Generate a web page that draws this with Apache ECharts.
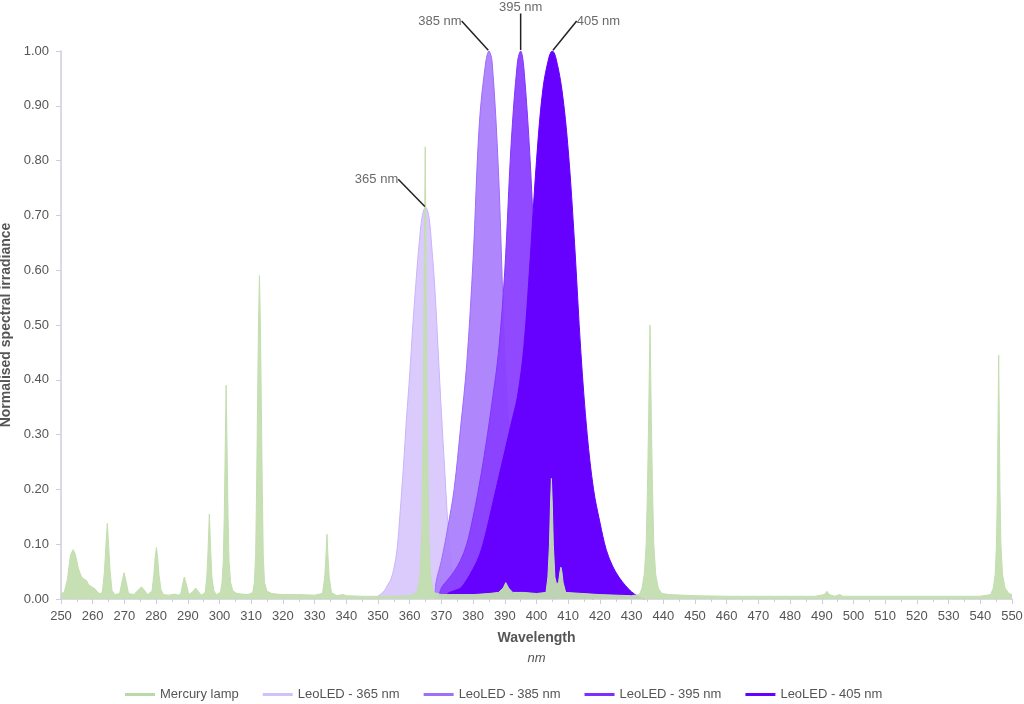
<!DOCTYPE html>
<html>
<head>
<meta charset="utf-8">
<script src="https://cdn.jsdelivr.net/npm/echarts@6/dist/echarts.min.js"></script>
<style>
html,body{margin:0;padding:0;background:#fff;}
#chart{width:1024px;height:704px;}
</style>
</head>
<body>
<div id="chart"></div>
<script>
// ---- data: [wavelength nm, normalised irradiance] ----
var seriesNames = ['Mercury lamp', 'LeoLED - 365 nm', 'LeoLED - 385 nm', 'LeoLED - 395 nm', 'LeoLED - 405 nm'];

var mercury = [
 [250,0.01],[251,0.012],[252,0.035],[253,0.08],[253.8,0.09],[254.5,0.082],[255.5,0.055],[256.5,0.04],[257.3,0.036],
 [258,0.034],[258.8,0.025],[259.8,0.022],[260.8,0.018],[261.8,0.011],[262.6,0.009],
 [263.1,0.015],[263.7,0.05],[264.2,0.1],[264.6,0.138],[265,0.1],[265.5,0.05],[266.1,0.015],[267,0.008],
 [268.5,0.01],[269.2,0.03],[269.9,0.048],[270.6,0.03],[271.3,0.01],
 [273,0.008],[274.3,0.016],[275.4,0.022],[276.3,0.016],[277.3,0.008],
 [278.7,0.014],[279.3,0.045],[279.7,0.075],[280.1,0.094],[280.5,0.075],[280.9,0.045],[281.5,0.018],[282.3,0.008],
 [284,0.007],[286,0.009],[287,0.007],
 [287.8,0.01],[288.4,0.028],[288.9,0.04],[289.5,0.028],[290.3,0.008],[291.5,0.013],[292.5,0.02],[293.4,0.013],[294.3,0.007],
 [295.5,0.012],[296,0.04],[296.4,0.09],[296.8,0.155],[297.2,0.09],[297.6,0.04],[298.2,0.015],[299,0.008],
 [300.3,0.012],[300.8,0.03],[301.2,0.07],[301.5,0.15],[301.8,0.27],[302.1,0.39],[302.4,0.27],[302.7,0.15],[303,0.07],
 [303.5,0.03],[304.2,0.015],[305.5,0.01],[307,0.009],[309,0.008],
 [310.5,0.012],[311,0.03],[311.4,0.08],[311.7,0.2],[312,0.35],[312.3,0.5],[312.6,0.59],[312.9,0.5],[313.2,0.35],
 [313.5,0.2],[313.8,0.08],[314.2,0.03],[315,0.014],[316.5,0.01],
 [318,0.009],[320,0.008],[325,0.008],[330,0.007],
 [332.5,0.01],[333.2,0.04],[333.6,0.08],[333.9,0.118],[334.2,0.08],[334.6,0.04],[335.3,0.012],
 [337,0.006],[339,0.008],[340,0.006],[345,0.005],[350,0.005],[355,0.005],[360,0.006],
 [362.3,0.012],[363.2,0.04],[363.8,0.12],[364.3,0.35],[364.6,0.6],[364.9,0.825],[365.2,0.6],[365.5,0.35],[366,0.12],
 [366.6,0.04],[367.5,0.012],
 [370,0.008],[380,0.008],[385,0.01],[388,0.012],[389.5,0.02],[390.3,0.03],[391.2,0.02],[392.5,0.012],[396,0.012],[400,0.01],
 [403,0.012],[403.6,0.04],[404.1,0.1],[404.4,0.17],[404.7,0.22],[405,0.17],[405.3,0.1],[405.8,0.04],[406.4,0.025],
 [407,0.032],[407.4,0.05],[407.7,0.058],[408,0.05],[408.4,0.03],[409.2,0.012],
 [420,0.008],[430,0.006],
 [432.5,0.008],[433.3,0.02],[434,0.045],[434.6,0.1],[435,0.2],[435.3,0.3],[435.6,0.42],[435.8,0.5],[436,0.42],
 [436.3,0.3],[436.6,0.2],[437,0.1],[437.6,0.045],[438.4,0.02],[439.5,0.01],
 [442,0.008],[450,0.006],[460,0.005],[470,0.005],[480,0.005],[488,0.005],[490.8,0.008],[491.6,0.014],
 [492.4,0.008],[494,0.005],[495.7,0.008],[496.6,0.005],[500,0.005],[510,0.005],[520,0.005],[530,0.005],[540,0.005],
 [543.3,0.008],[544.1,0.02],[544.7,0.045],[545.1,0.1],[545.4,0.2],[545.6,0.32],[545.8,0.445],[546,0.32],[546.2,0.2],
 [546.5,0.1],[547,0.045],[547.8,0.02],[549,0.01],[550,0.008]
];

var led365 = [
 [348,0],[350,0.005],[352,0.015],[353,0.025],[354,0.035],[355,0.055],[356,0.09],[357,0.16],[358,0.24],[359,0.33],
 [360,0.41],[361,0.5],[362,0.58],[363,0.65],[364,0.7],[365,0.715],[366,0.7],[367,0.64],[368,0.56],[369,0.45],
 [370,0.34],[371,0.24],[372,0.14],[373,0.07],[374,0.035],[375,0.015],[376,0.005],[378,0]
];

var led385 = [
 [368,0],[368.3,0.03],[370,0.07],[372,0.13],[374,0.2],[376,0.31],[378,0.43],[380,0.62],[382,0.87],[384,0.98],
 [385,1.0],[386,0.98],[388,0.78],[390,0.45],[392,0.25],[394,0.13],[396,0.07],[398,0.04],[400,0.02],[403,0.01],[406,0]
];

var led395 = [
 [369,0],[370,0.02],[372,0.035],[374,0.05],[376,0.07],[378,0.1],[380,0.15],[382,0.21],[384,0.28],[386,0.36],
 [388,0.45],[390,0.6],[392,0.83],[394,0.98],[395,1.0],[396,0.97],[398,0.8],[400,0.55],[402,0.35],[404,0.2],
 [406,0.11],[408,0.06],[410,0.03],[412,0.015],[415,0.005],[418,0]
];

var led405 = [
 [371,0],[372,0.01],[374,0.015],[376,0.02],[378,0.035],[380,0.055],[382,0.08],[384,0.12],[386,0.17],[388,0.22],
 [390,0.27],[392,0.32],[394,0.37],[396,0.46],[398,0.62],[400,0.8],[402,0.93],[404,0.99],[405,1.0],[406,0.99],
 [408,0.93],[410,0.82],[412,0.65],[414,0.45],[416,0.3],[418,0.2],[420,0.14],[422,0.09],[424,0.06],[426,0.04],
 [428,0.025],[430,0.013],[432,0.005],[434,0]
];

var peakLabels = ['365 nm', '385 nm', '395 nm', '405 nm'];
var peakPoints = [[365,0.715],[385,1.0],[395,1.0],[405,1.0]];

var xTicks = {min:250, max:550, interval:10};
var yTicks = {min:0, max:1, interval:0.1};

// ---- chart ----
var colors = {
  merc: '#c3deb0',
  l365: '#d6c5fc',
  l385: '#a97cfd',
  l395: '#8a3fff',
  l405: '#6600ff'
};
var legendColors = ['#b9d9a6', '#d2c0fb', '#a070fc', '#7d2fff', '#6600ff'];
var labelOffsets = [[-49,-28],[-49,-30],[0,-44],[46,-30]];
var FONT = 'Liberation Sans, Arial, sans-serif';

var chart = echarts.init(document.getElementById('chart'));
function areaSeries(name, data, color, lineColor, opacity, z) {
  return {
    name: name, type: 'line', data: data, smooth: 0.35,
    showSymbol: false, symbol: 'none', z: z,
    lineStyle: {color: lineColor, width: 1},
    itemStyle: {color: lineColor},
    areaStyle: {color: color, opacity: opacity}
  };
}
var option = {
  animation: false,
  backgroundColor: '#fff',
  textStyle: {fontFamily: FONT},
  grid: {left: 61, right: 12, top: 51, bottom: 105, containLabel: false, outerBoundsMode: 'none'},
  legend: {
    data: seriesNames.map(function (n, i) {
      return {name: n, itemStyle: {color: legendColors[i], borderWidth: 0}};
    }),
    left: 120, top: 683,
    icon: 'rect', itemWidth: 30, itemHeight: 3, itemGap: 24,
    textStyle: {color: '#555', fontSize: 13, fontFamily: FONT}
  },
  xAxis: {
    type: 'value', min: xTicks.min, max: xTicks.max, interval: xTicks.interval,
    name: 'Wavelength\n{i|nm}', nameLocation: 'middle', nameGap: 27,
    nameTextStyle: {color: '#555', fontSize: 14, fontWeight: 'bold', lineHeight: 20,
      rich: {i: {fontStyle: 'italic', fontWeight: 'normal', color: '#555', fontSize: 13, lineHeight: 20}}},
    axisLine: {show: true, lineStyle: {color: '#cfcbe0', width: 1.5}},
    axisTick: {show: true, length: 5, lineStyle: {color: '#cfcbe0'}},
    minorTick: {show: true, splitNumber: 2, length: 3, lineStyle: {color: '#cfcbe0'}},
    axisLabel: {color: '#555', fontSize: 13, margin: 11},
    splitLine: {show: false}
  },
  yAxis: {
    type: 'value', min: yTicks.min, max: yTicks.max, interval: yTicks.interval,
    name: 'Normalised spectral irradiance', nameLocation: 'middle', nameGap: 42,
    nameTextStyle: {color: '#555', fontSize: 14, fontWeight: 'bold'},
    axisLine: {show: true, lineStyle: {color: '#cfcbe0', width: 1.5}},
    axisTick: {show: true, length: 5, lineStyle: {color: '#cfcbe0'}},
    axisLabel: {color: '#555', fontSize: 13, margin: 12, formatter: function (v) { return v.toFixed(2); }},
    splitLine: {show: false}
  },
  series: [
    areaSeries(seriesNames[1], led365, colors.l365, '#c9b3fb', 0.9, 2),
    areaSeries(seriesNames[2], led385, colors.l385, '#9d6afc', 0.92, 3),
    areaSeries(seriesNames[3], led395, colors.l395, '#8035ff', 0.95, 4),
    areaSeries(seriesNames[4], led405, colors.l405, '#6600ff', 1, 5),
    {
      name: seriesNames[0], type: 'line', data: mercury, smooth: false,
      showSymbol: false, symbol: 'none', z: 6,
      lineStyle: {color: colors.merc, width: 1},
      itemStyle: {color: '#b6d6a2'},
      areaStyle: {color: colors.merc, opacity: 0.95}
    },
    {
      type: 'scatter', z: 10, silent: true, legendHoverLink: false,
      data: peakPoints.map(function (p, i) { return {name: peakLabels[i], value: p}; }),
      symbolSize: 2, itemStyle: {color: 'rgba(0,0,0,0)'},
      label: {show: true, position: 'inside', formatter: '{b}', color: '#444', fontSize: 13, fontFamily: FONT},
      labelLine: {show: true, lineStyle: {color: '#222', width: 1.5}},
      labelLayout: function (params) {
        var o = labelOffsets[params.dataIndex];
        return {dx: o[0], dy: o[1]};
      }
    }
  ]
};
chart.setOption(option);
</script>
</body>
</html>
